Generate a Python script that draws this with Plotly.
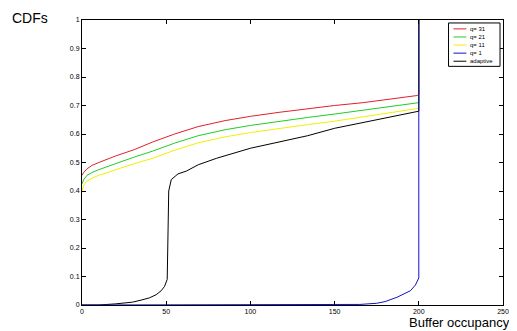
import plotly.graph_objects as go

# Data
red_x = [0, 1, 3, 6, 10, 20, 31, 42, 55, 69, 85, 100, 117, 134, 150, 167, 183, 199, 200, 200]
red_y = [0.455, 0.465, 0.478, 0.49, 0.50, 0.523, 0.545, 0.572, 0.60, 0.626, 0.647, 0.662, 0.676, 0.689, 0.70, 0.71, 0.722, 0.735, 0.74, 1.0]

green_x = [0, 1, 3, 6, 10, 20, 31, 42, 55, 69, 85, 100, 117, 134, 150, 167, 183, 199, 200, 200]
green_y = [0.425, 0.44, 0.455, 0.465, 0.475, 0.497, 0.519, 0.54, 0.568, 0.594, 0.615, 0.63, 0.645, 0.658, 0.67, 0.683, 0.695, 0.708, 0.71, 1.0]

yellow_x = [0, 1, 3, 6, 10, 20, 31, 42, 55, 69, 85, 100, 117, 134, 150, 167, 183, 199, 200, 200]
yellow_y = [0.40, 0.42, 0.435, 0.445, 0.455, 0.475, 0.496, 0.515, 0.543, 0.569, 0.59, 0.605, 0.62, 0.633, 0.645, 0.66, 0.674, 0.689, 0.69, 1.0]

blue_x = [0, 155, 165, 175, 180, 187, 192, 195, 198, 200, 200]
blue_y = [0, 0, 0.002, 0.006, 0.012, 0.027, 0.04, 0.05, 0.07, 0.095, 1.0]

black_x = [0, 10, 20, 30, 35, 40, 44, 47, 49, 50, 50.6, 51.5, 53, 57, 62, 69, 80, 100, 117, 134, 150, 167, 183, 199, 200, 200]
black_y = [0, 0, 0.004, 0.01, 0.017, 0.025, 0.036, 0.05, 0.065, 0.085, 0.09, 0.40, 0.44, 0.46, 0.47, 0.492, 0.515, 0.55, 0.573, 0.594, 0.62, 0.64, 0.66, 0.678, 0.68, 1.0]

x_ticks = [0, 50, 100, 150, 200, 250]
y_ticks = [0, 0.1, 0.2, 0.3, 0.4, 0.5, 0.6, 0.7, 0.8, 0.9, 1]
y_tick_labels = ["0", "0.1", "0.2", "0.3", "0.4", "0.5", "0.6", "0.7", "0.8", "0.9", "1"]

legend_names = ["q= 31", "q= 21", "q= 11", "q= 1", "adaptive"]
legend_colors = ["#e0202a", "#22cc22", "#f2f000", "#1010c8", "#000000"]

FONT = "Liberation Sans, Arial"

# Page has an 8px body margin; compensate so the plot area lands at x 82..507, y 16..305
W, H = 509, 323
ML, MR, MT, MB = 74, 10, 8, 26
PX0, PX1, PY0, PY1 = 82, 507, 16, 305  # plot area in screen pixels


def px(xp):
    return (xp - PX0) / (PX1 - PX0)


def py(yp):
    return (PY1 - yp) / (PY1 - PY0)


fig = go.Figure()
series = [
    (legend_names[0], red_x, red_y, legend_colors[0]),
    (legend_names[1], green_x, green_y, legend_colors[1]),
    (legend_names[2], yellow_x, yellow_y, legend_colors[2]),
    (legend_names[4], black_x, black_y, legend_colors[4]),
    (legend_names[3], blue_x, blue_y, legend_colors[3]),
]
for name, xs, ys, col in series:
    fig.add_trace(go.Scatter(x=xs, y=ys, mode="lines", name=name,
                             line=dict(color=col, width=1), showlegend=False))

axis_common = dict(showline=True, mirror="ticks", linecolor="black", linewidth=1,
                   ticks="inside", ticklen=4, tickcolor="black", showgrid=False,
                   zeroline=False, tickfont=dict(family=FONT, size=7, color="black"))

fig.update_xaxes(range=[0, 250], tickvals=x_ticks, **axis_common)
fig.update_yaxes(range=[0, 1], tickvals=y_ticks, ticktext=y_tick_labels, **axis_common)

shapes = [dict(type="rect", xref="paper", yref="paper",
               x0=px(452), x1=px(504), y0=py(63), y1=py(19),
               line=dict(color="black", width=1), fillcolor="white", layer="above")]
annotations = []
for i, (name, col) in enumerate(zip(legend_names, legend_colors)):
    yc = 25 + i * 8.2
    shapes.append(dict(type="line", xref="paper", yref="paper",
                       x0=px(457), x1=px(470), y0=py(yc), y1=py(yc),
                       line=dict(color=col, width=1), layer="above"))
    annotations.append(dict(text=name, xref="paper", yref="paper", x=px(472), y=py(yc),
                            xanchor="left", yanchor="middle", showarrow=False,
                            font=dict(size=6, family=FONT, color="black")))

annotations.append(dict(text="CDFs", xref="paper", yref="paper", x=px(9), y=py(14),
                        xanchor="left", yanchor="middle", showarrow=False,
                        font=dict(size=14, family=FONT, color="black")))
annotations.append(dict(text="Buffer occupancy", xref="paper", yref="paper", x=px(516), y=py(323),
                        xanchor="right", yanchor="middle", showarrow=False,
                        font=dict(size=13, family=FONT, color="black")))

fig.update_layout(
    width=W, height=H,
    margin=dict(l=ML, r=MR, t=MT, b=MB),
    paper_bgcolor="white", plot_bgcolor="white",
    font=dict(family=FONT, color="black"),
    showlegend=False,
    shapes=shapes,
    annotations=annotations,
)

fig.write_html("out.html")
